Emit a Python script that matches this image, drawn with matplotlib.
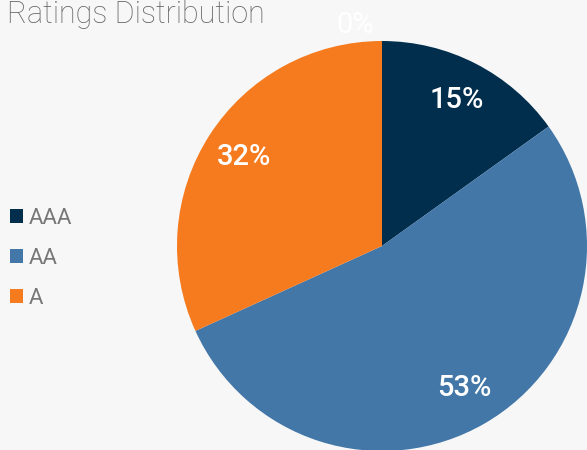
import matplotlib.pyplot as plt
from matplotlib.patches import Patch

# Dados
categorias = ["AAA", "AA", "A", ""]
valores = [15.1, 53.1, 31.8, 0.0]
cores = ["#022e4e", "#4277a7", "#f67a1e", "#cccccc"]
titulo = "Ratings Distribution"

fundo = "#f7f7f7"

fig = plt.figure(figsize=(5.87, 4.5), dpi=100, facecolor=fundo)
ax = fig.add_axes([0, 0, 1, 1])
ax.set_facecolor(fundo)

wedges, textos, pcts = ax.pie(
    valores,
    colors=cores,
    startangle=90,
    counterclock=False,
    radius=1.0,
    autopct=lambda p: "%.0f%%" % p,
    pctdistance=0.8,
    textprops={"color": "white", "fontsize": 21, "family": "Roboto", "fontweight": "medium"},
    wedgeprops={"linewidth": 0},
)

# rótulo do valor zero fica acima da pizza
pcts[3].set_position((-0.13, 1.08))
pcts[3].set_fontweight("normal")

ax.set_aspect("equal")
ax.set_xlim(-382 / 205, 205 / 205)
ax.set_ylim(-204 / 205, 246 / 205)
ax.axis("off")

fig.text(0.012, 1.0, titulo, ha="left", va="top", fontsize=22,
         family="Roboto", fontweight="light", color="#666666")

handles = [Patch(facecolor=c, edgecolor="none") for c in cores[:3]]
leg = fig.legend(handles, categorias[:3], loc="center left", bbox_to_anchor=(0.017, 0.426),
                 frameon=False, borderpad=0, borderaxespad=0,
                 handlelength=0.6, handleheight=0.6, handletextpad=0.25,
                 labelspacing=0.85, prop={"family": "Roboto", "weight": "normal", "size": 16})
for t in leg.get_texts():
    t.set_color("#777777")

plt.savefig("out.png", dpi=100, facecolor=fundo)
plt.close()
